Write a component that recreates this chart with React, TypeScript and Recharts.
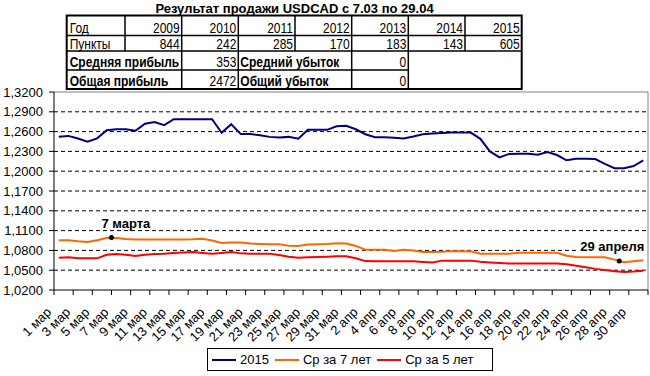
import React from 'react';
import { LineChart, Line, XAxis, YAxis, ReferenceLine, ReferenceDot } from 'recharts';

const FONT = "'Liberation Sans', Arial, sans-serif";

// days on the category axis (1 Mar .. 1 May)
const dates = [
  '1 мар', '2 мар', '3 мар', '4 мар', '5 мар', '6 мар', '7 мар', '8 мар', '9 мар', '10 мар',
  '11 мар', '12 мар', '13 мар', '14 мар', '15 мар', '16 мар', '17 мар', '18 мар', '19 мар', '20 мар',
  '21 мар', '22 мар', '23 мар', '24 мар', '25 мар', '26 мар', '27 мар', '28 мар', '29 мар', '30 мар',
  '31 мар', '1 апр', '2 апр', '3 апр', '4 апр', '5 апр', '6 апр', '7 апр', '8 апр', '9 апр',
  '10 апр', '11 апр', '12 апр', '13 апр', '14 апр', '15 апр', '16 апр', '17 апр', '18 апр', '19 апр',
  '20 апр', '21 апр', '22 апр', '23 апр', '24 апр', '25 апр', '26 апр', '27 апр', '28 апр', '29 апр',
  '30 апр', '1 мая',
];

const usd2015 = [
  1.2522, 1.2535, 1.2495, 1.2447, 1.2498, 1.262, 1.2637, 1.2637, 1.2612, 1.272,
  1.2745, 1.2697, 1.2787, 1.2787, 1.2787, 1.2787, 1.2787, 1.2582, 1.2712, 1.2562,
  1.2562, 1.2545, 1.252, 1.251, 1.252, 1.2492, 1.2627, 1.2627, 1.2627, 1.268,
  1.2687, 1.2635, 1.256, 1.2515, 1.2514, 1.2505, 1.2495, 1.2525, 1.256, 1.257,
  1.2577, 1.2585, 1.2585, 1.2585, 1.249, 1.23, 1.221, 1.2262, 1.2265, 1.2263,
  1.2248, 1.229, 1.2245, 1.2165, 1.219, 1.219, 1.2185, 1.211, 1.2045, 1.2045,
  1.2078, 1.2165,
];

const avg7 = [
  1.0955, 1.0955, 1.094, 1.0929, 1.0955, 1.0988, 1.0988, 1.0972, 1.0966, 1.0966,
  1.0966, 1.0966, 1.0966, 1.0966, 1.0968, 1.0978, 1.095, 1.0914, 1.0919, 1.0919,
  1.0905, 1.0898, 1.0893, 1.0895, 1.0872, 1.0867, 1.0888, 1.0895, 1.0898, 1.0908,
  1.0905, 1.0868, 1.0811, 1.0811, 1.0811, 1.079, 1.0809, 1.08, 1.0775, 1.0774,
  1.0778, 1.0789, 1.0789, 1.0785, 1.0748, 1.0748, 1.0748, 1.075, 1.0764, 1.0764,
  1.0764, 1.0764, 1.0764, 1.072, 1.07, 1.0696, 1.0696, 1.0696, 1.066, 1.0622,
  1.0634, 1.0649,
];

const avg5 = [
  1.069, 1.0696, 1.068, 1.068, 1.068, 1.0735, 1.0745, 1.0735, 1.0717, 1.0735,
  1.0745, 1.075, 1.0759, 1.0767, 1.0774, 1.076, 1.0749, 1.076, 1.0774, 1.0755,
  1.0749, 1.0749, 1.0749, 1.073, 1.0705, 1.0688, 1.0695, 1.07, 1.0705, 1.071,
  1.071, 1.068, 1.0638, 1.0634, 1.0634, 1.0634, 1.0634, 1.0634, 1.0626, 1.0618,
  1.0645, 1.0645, 1.0645, 1.0645, 1.0629, 1.0618, 1.061, 1.0603, 1.0603, 1.0603,
  1.0603, 1.0603, 1.0603, 1.059, 1.0568, 1.0545, 1.052, 1.0503, 1.0485, 1.0474,
  1.048, 1.049,
];

const yTicks = [1.02, 1.05, 1.08, 1.11, 1.14, 1.17, 1.2, 1.23, 1.26, 1.29, 1.32];

// marked days on the 7-year average: date index and value
const marks = [
  { idx: 6, value: 1.0995, text: '7 марта' },
  { idx: 59, value: 1.064, text: '29 апреля' },
];

// summary table
const years = ['2009', '2010', '2011', '2012', '2013', '2014', '2015'];
const points = [844, 242, 285, 170, 183, 143, 605];
const avgProfit = 353;
const avgLoss = 0;
const totalProfit = 2472;
const totalLoss = 0;

const chartData = dates.map((d, i) => ({
  x: i,
  date: d,
  usd: usd2015[i],
  avg7: avg7[i],
  avg5: avg5[i],
}));

// tick marks sit between days, one every two days
const xTicks = dates
  .map((_, i) => i - 0.5)
  .filter((_, i) => i % 2 === 0)
  .concat(dates.length - 0.5);

const fmtY = (v: number) => v.toFixed(4).replace('.', ',');

const XTick = (props: any) => {
  const { x, y, payload } = props;
  const label = dates[payload.value + 0.5] ?? '';
  const ax = x - 2;
  const ay = y + 16;
  return (
    <text
      x={ax}
      y={ay}
      transform={`rotate(-45, ${ax}, ${ay})`}
      textAnchor="end"
      fontSize={13}
      fontFamily={FONT}
      fill="#000"
    >
      {label}
    </text>
  );
};

function SummaryTable() {
  const colX = [66.7, 125, 181.7, 238.3, 295, 351.7, 408.3, 465, 521.7];
  const rowY = [15.5, 35.5, 51, 70, 89];
  const ts = (x: number, y: number) => `translate(${x},${y}) scale(1,1.25)`;
  const txt = { fontFamily: FONT, fontSize: 12, fill: '#000' };
  return (
    <svg
      width={650}
      height={100}
      style={{ position: 'absolute', left: 0, top: 0 }}
    >
      <text x={294.5} y={13} textAnchor="middle" fontFamily={FONT} fontSize={13} fontWeight="bold">
        Результат продажи USDCAD с 7.03 по 29.04
      </text>
      {/* inner lines */}
      <g stroke="#000" strokeWidth={1.5}>
        <line x1={colX[0]} x2={colX[8]} y1={rowY[1]} y2={rowY[1]} />
        <line x1={colX[0]} x2={colX[8]} y1={rowY[2]} y2={rowY[2]} />
        <line x1={colX[0]} x2={colX[6]} y1={rowY[3]} y2={rowY[3]} />
        {colX.slice(1, 8).map((cx) => (
          <line key={cx} x1={cx} x2={cx} y1={rowY[0]} y2={rowY[2]} />
        ))}
        {[colX[2], colX[3], colX[5], colX[6]].map((cx) => (
          <line key={'b' + cx} x1={cx} x2={cx} y1={rowY[2]} y2={rowY[4]} />
        ))}
      </g>
      <rect
        x={colX[0]}
        y={rowY[0]}
        width={colX[8] - colX[0]}
        height={rowY[4] - rowY[0]}
        fill="none"
        stroke="#000"
        strokeWidth={2}
      />
      <text transform={ts(colX[0] + 3, 33)} {...txt}>Год</text>
      {years.map((y, i) => (
        <text key={y} transform={ts(colX[i + 2] - 2, 33)} textAnchor="end" {...txt}>{y}</text>
      ))}
      <text transform={ts(colX[0] + 3, 49)} {...txt}>Пункты</text>
      {points.map((p, i) => (
        <text key={i} transform={ts(colX[i + 2] - 2, 49)} textAnchor="end" {...txt}>{p}</text>
      ))}
      <text transform={ts(colX[0] + 3, 67)} {...txt} fontWeight="bold">Средняя прибыль</text>
      <text transform={ts(colX[3] - 2, 67)} textAnchor="end" {...txt}>{avgProfit}</text>
      <text transform={ts(colX[3] + 2, 67)} {...txt} fontWeight="bold">Средний убыток</text>
      <text transform={ts(colX[6] - 2, 67)} textAnchor="end" {...txt}>{avgLoss}</text>
      <text transform={ts(colX[0] + 3, 86)} {...txt} fontWeight="bold">Общая прибыль</text>
      <text transform={ts(colX[3] - 2, 86)} textAnchor="end" {...txt}>{totalProfit}</text>
      <text transform={ts(colX[3] + 2, 86)} {...txt} fontWeight="bold">Общий убыток</text>
      <text transform={ts(colX[6] - 2, 86)} textAnchor="end" {...txt}>{totalLoss}</text>
    </svg>
  );
}

const legendItems = [
  { name: '2015', color: '#000080' },
  { name: 'Ср за 7 лет', color: '#FF6600' },
  { name: 'Ср за 5 лет', color: '#FF0000' },
];

function ChartLegend() {
  return (
    <div
      style={{
        position: 'absolute',
        left: 207,
        top: 348,
        width: 286,
        height: 23,
        boxSizing: 'border-box',
        border: '1.5px solid #000',
        display: 'flex',
        alignItems: 'center',
        paddingLeft: 4,
        fontFamily: FONT,
        fontSize: 13,
        color: '#000',
      }}
    >
      {legendItems.map((it) => (
        <div key={it.name} style={{ display: 'flex', alignItems: 'center', marginRight: 6 }}>
          <span style={{ display: 'inline-block', width: 24, height: 2, background: it.color, marginRight: 4 }} />
          <span>{it.name}</span>
        </div>
      ))}
    </div>
  );
}

const MarkShape = (text: string, dx: number, boxed: boolean) => (props: any) => {
  const { cx, cy } = props;
  const w = text.length * 7.3;
  return (
    <g>
      {boxed && <rect x={cx + dx - 3} y={cy - 21} width={w + 4} height={14} fill="#fff" />}
      <circle cx={cx} cy={cy} r={2.5} fill="#000" />
      <text x={cx + dx} y={cy - 10} fontFamily={FONT} fontSize={13} fontWeight="bold" fill="#000">
        {text}
      </text>
    </g>
  );
};

export default function App() {
  return (
    <div style={{ position: 'absolute', left: 0, top: 0, width: 650, height: 376, background: '#fff' }}>
      <LineChart
        width={650}
        height={376}
        data={chartData}
        margin={{ top: 92, right: 2, bottom: 36, left: 0 }}
      >
        {yTicks.slice(1, -1).map((v) => (
          <ReferenceLine key={v} y={v} stroke="#000" strokeDasharray="4 3" />
        ))}
        <ReferenceLine y={1.32} stroke="#808080" />
        <ReferenceLine x={dates.length - 0.5} stroke="#808080" />
        <XAxis
          dataKey="x"
          type="number"
          domain={[-0.5, dates.length - 0.5]}
          ticks={xTicks}
          interval={0}
          height={50}
          tickSize={5}
          tick={<XTick />}
          axisLine={{ stroke: '#000' }}
          tickLine={{ stroke: '#000' }}
        />
        <YAxis
          type="number"
          domain={[1.02, 1.32]}
          ticks={yTicks}
          interval={0}
          width={54}
          tickSize={5}
          tickMargin={6}
          tickFormatter={fmtY}
          tick={{ fontSize: 13, fontFamily: FONT, fill: '#000' }}
          axisLine={{ stroke: '#000' }}
          tickLine={{ stroke: '#000' }}
        />
        <Line dataKey="usd" stroke="#000080" strokeWidth={2} dot={false} activeDot={false} isAnimationActive={false} />
        <Line dataKey="avg7" stroke="#FF6600" strokeWidth={2} dot={false} activeDot={false} isAnimationActive={false} />
        <Line dataKey="avg5" stroke="#FF0000" strokeWidth={2} dot={false} activeDot={false} isAnimationActive={false} />
        <ReferenceDot
          x={marks[0].idx - 0.5}
          y={marks[0].value}
          shape={MarkShape(marks[0].text, -10, false)}
        />
        <ReferenceDot
          x={marks[1].idx - 0.5}
          y={marks[1].value}
          shape={MarkShape(marks[1].text, -39, true)}
        />
      </LineChart>
      <SummaryTable />
      <ChartLegend />
    </div>
  );
}
